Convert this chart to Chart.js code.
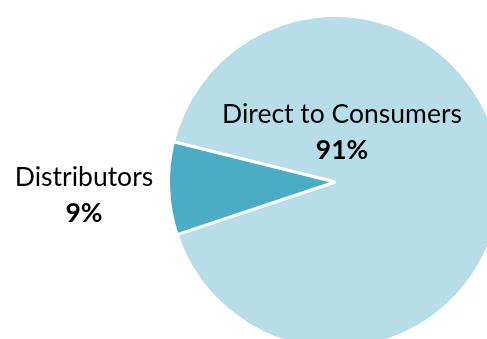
<!DOCTYPE html>
<html>
<head>
<meta charset="utf-8">
<script src="https://cdn.jsdelivr.net/npm/chart.js@4/dist/chart.umd.min.js"></script>
<style>
  html, body { margin: 0; padding: 0; background: #fff; overflow: hidden; }
  body { width: 487px; height: 339px; position: relative; }
  #wrap { position: absolute; left: 0; top: 0; width: 530px; height: 370px; }
</style>
</head>
<body>
<div id="wrap"><canvas id="chart"></canvas></div>
<script>
const categories = ['Direct to Consumers', 'Distributors'];
const shares = [91, 9];
const sliceColors = ['#B7DDE8', '#4BACC6'];

// label anchor points (page pixels) for each category
const labelSpots = [{ x: 342, y: 114 }, { x: 84, y: 177 }];

const labelPlugin = {
  id: 'sliceLabels',
  afterDatasetsDraw(chart) {
    const ctx = chart.ctx;
    ctx.save();
    ctx.fillStyle = '#000';
    ctx.textAlign = 'center';
    ctx.textBaseline = 'middle';
    categories.forEach((name, i) => {
      const p = labelSpots[i];
      ctx.font = '26.5px Lato, "Open Sans", sans-serif';
      ctx.fillText(name, p.x, p.y);
      ctx.font = 'bold 26.5px Lato, "Open Sans", sans-serif';
      ctx.fillText(shares[i] + '%', p.x, p.y + 36);
    });
    ctx.restore();
  }
};

new Chart(document.getElementById('chart'), {
  type: 'pie',
  data: {
    labels: categories,
    datasets: [{
      data: shares,
      backgroundColor: sliceColors,
      borderColor: '#fff',
      borderWidth: 3,
      borderAlign: 'center'
    }]
  },
  options: {
    responsive: true,
    maintainAspectRatio: false,
    animation: false,
    rotation: 284,
    layout: { padding: { left: 167, top: 14, right: 530 - 503, bottom: 370 - 350 } },
    plugins: {
      legend: { display: false },
      tooltip: { enabled: false }
    }
  },
  plugins: [labelPlugin]
});
</script>
</body>
</html>
